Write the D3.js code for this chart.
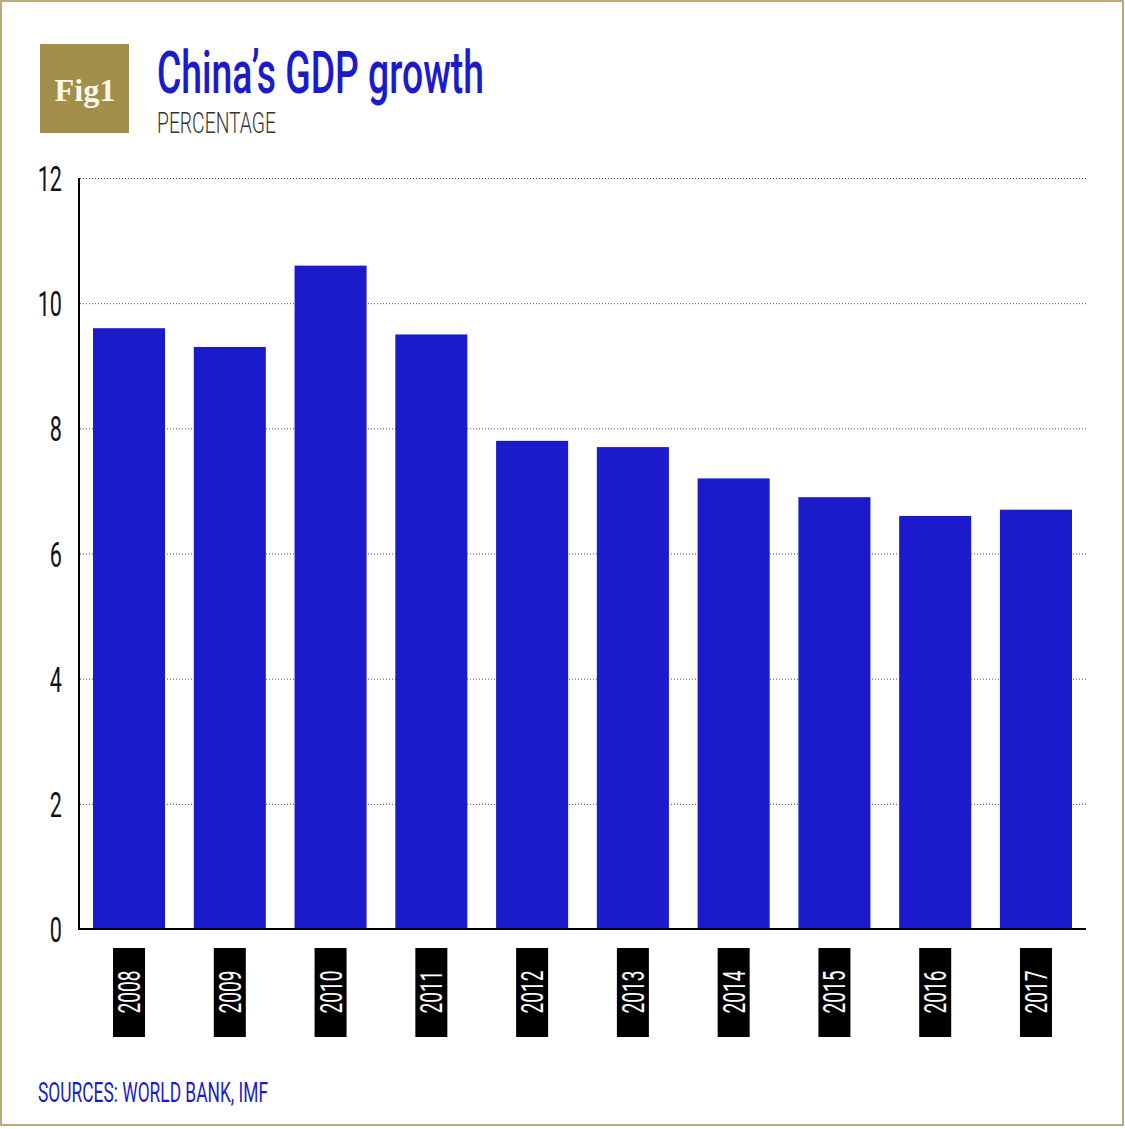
<!DOCTYPE html>
<html>
<head>
<meta charset="utf-8">
<script src="https://cdn.jsdelivr.net/npm/d3@7"></script>
<style>
  body { margin: 0; background: #fff; }
  svg { display: block; }
</style>
</head>
<body>
<div id="chart"></div>
<script>
var W = 1125, H = 1129;

// data
var years = ["2008", "2009", "2010", "2011", "2012", "2013", "2014", "2015", "2016", "2017"];
var growth = [9.6, 9.3, 10.6, 9.5, 7.8, 7.7, 7.2, 6.9, 6.6, 6.7];
var yTicks = [0, 2, 4, 6, 8, 10, 12];

var blue = "#1b1bcc";

var svg = d3.select("#chart").append("svg")
  .attr("width", W)
  .attr("height", H);

// outer frame
svg.append("rect")
  .attr("x", 1).attr("y", 1)
  .attr("width", 1122).attr("height", 1124)
  .attr("fill", "none")
  .attr("stroke", "#b9ac7a")
  .attr("stroke-width", 2);

// Fig 1 badge
svg.append("rect")
  .attr("x", 40).attr("y", 44)
  .attr("width", 89).attr("height", 89)
  .attr("fill", "#a38f4c");
svg.append("text")
  .attr("x", 85).attr("y", 101)
  .attr("text-anchor", "middle")
  .attr("font-family", "Liberation Serif, DejaVu Serif, serif")
  .attr("font-weight", "bold")
  .attr("font-size", 31)
  .attr("fill", "#fbf7ea")
  .attr("textLength", 61)
  .attr("lengthAdjust", "spacingAndGlyphs")
  .text("Fig1");

// title + subtitle (condensed look via textLength)
svg.append("text")
  .attr("x", 157).attr("y", 93)
  .attr("font-family", "Roboto, sans-serif")
  .attr("font-weight", 500)
  .attr("font-size", 60)
  .attr("fill", blue)
  .attr("textLength", 327)
  .attr("lengthAdjust", "spacingAndGlyphs")
  .text("China\u2019s GDP growth");

svg.append("text")
  .attr("x", 157).attr("y", 133)
  .attr("font-family", "Roboto, sans-serif")
  .attr("font-weight", 300)
  .attr("font-size", 30)
  .attr("fill", "#333")
  .attr("textLength", 119)
  .attr("lengthAdjust", "spacingAndGlyphs")
  .text("PERCENTAGE");

// scales
var x = d3.scaleBand()
  .domain(years)
  .range([79, 1086])
  .paddingInner(0.285)
  .paddingOuter(0.139);

var y = d3.scaleLinear()
  .domain([0, 12])
  .range([929, 178]);

// dotted gridlines
svg.append("g")
  .selectAll("line")
  .data(yTicks.filter(function(d){ return d > 0; }))
  .enter()
  .append("line")
  .attr("x1", 80).attr("x2", 1086)
  .attr("y1", function(d){ return y(d) + 0.5; })
  .attr("y2", function(d){ return y(d) + 0.5; })
  .attr("stroke", "#555")
  .attr("stroke-width", 1)
  .attr("stroke-dasharray", "1,2");

// bars
svg.append("g")
  .selectAll("rect")
  .data(years)
  .enter()
  .append("rect")
  .attr("x", function(d){ return x(d); })
  .attr("width", x.bandwidth())
  .attr("y", function(d, i){ return y(growth[i]); })
  .attr("height", function(d, i){ return y(0) - y(growth[i]); })
  .attr("fill", blue);

// axes lines
svg.append("line")
  .attr("x1", 79).attr("x2", 79)
  .attr("y1", y(12)).attr("y2", y(0) + 1)
  .attr("stroke", "#000").attr("stroke-width", 2);
svg.append("line")
  .attr("x1", 78).attr("x2", 1086)
  .attr("y1", y(0)).attr("y2", y(0))
  .attr("stroke", "#000").attr("stroke-width", 2);

// y tick labels, squeezed horizontally
var sx = 0.6;
svg.append("g")
  .selectAll("text")
  .data(yTicks)
  .enter()
  .append("text")
  .attr("transform", function(d){ return "translate(62," + (y(d) + 13) + ") scale(" + sx + ",1)"; })
  .attr("text-anchor", "end")
  .attr("font-family", "Roboto, sans-serif")
  .attr("font-weight", 400)
  .attr("font-size", 36)
  .attr("fill", "#111")
  .text(function(d){ return d; });

// year labels in black boxes
var lab = svg.append("g")
  .selectAll("g")
  .data(years)
  .enter()
  .append("g")
  .attr("transform", function(d){ return "translate(" + (x(d) + x.bandwidth() / 2) + ",0)"; });

lab.append("rect")
  .attr("x", -16).attr("y", 948)
  .attr("width", 32).attr("height", 89)
  .attr("fill", "#000");

lab.append("text")
  .attr("transform", "translate(11,992) rotate(-90)")
  .attr("text-anchor", "middle")
  .attr("font-family", "Roboto, sans-serif")
  .attr("font-weight", 400)
  .attr("font-size", 32)
  .attr("fill", "#fff")
  .attr("textLength", 43)
  .attr("lengthAdjust", "spacingAndGlyphs")
  .text(function(d){ return d; });

// source
svg.append("text")
  .attr("x", 38).attr("y", 1102)
  .attr("font-family", "Roboto, sans-serif")
  .attr("font-weight", 400)
  .attr("font-size", 27)
  .attr("fill", blue)
  .attr("textLength", 230)
  .attr("lengthAdjust", "spacingAndGlyphs")
  .text("SOURCES: WORLD BANK, IMF");
</script>
</body>
</html>
